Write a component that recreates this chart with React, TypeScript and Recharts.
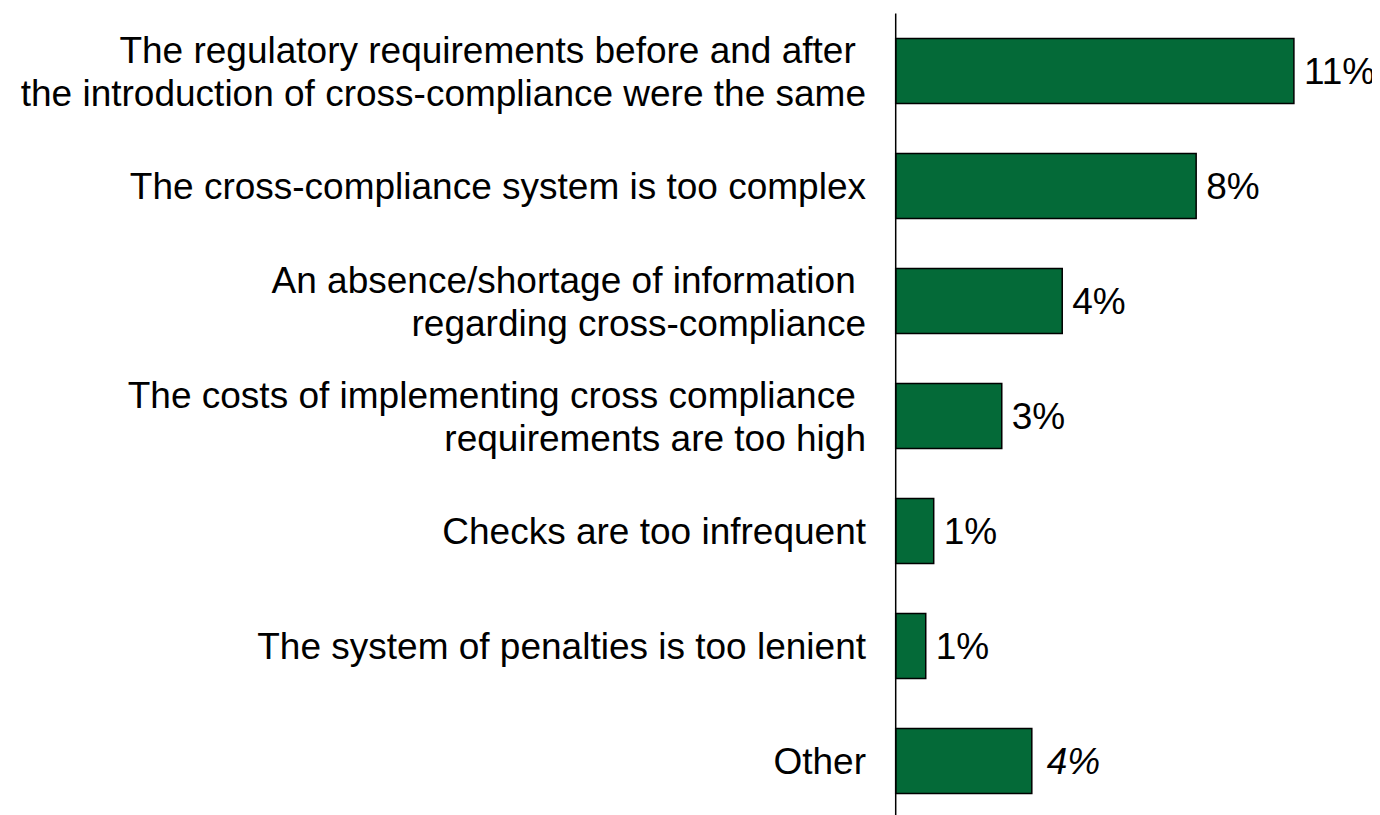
import React from "react";
import { BarChart, Bar, XAxis, YAxis, LabelList } from "recharts";

const categories: string[] = [
  "The regulatory requirements before and after \nthe introduction of cross-compliance were the same",
  "The cross-compliance system is too complex",
  "An absence/shortage of information \nregarding cross-compliance",
  "The costs of implementing cross compliance \nrequirements are too high",
  "Checks are too infrequent",
  "The system of penalties is too lenient",
  "Other",
];

const values: number[] = [11.0, 8.3, 4.6, 2.93, 1.05, 0.83, 3.76];

const valueLabels: string[] = ["11%", "8%", "4%", "3%", "1%", "1%", "4%"];

const italicLabels: boolean[] = [false, false, false, false, false, false, true];

const data = categories.map((name, i) => ({
  name,
  value: values[i],
  label: valueLabels[i],
  italic: italicLabels[i],
}));

const FONT = "'Liberation Sans', Arial, Helvetica, sans-serif";
const FONT_SIZE = 37;
const LINE_H = 43;

const YTick = (props: any) => {
  const { x, y, payload } = props;
  const lines: string[] = String(payload.value).split("\n");
  const n = lines.length;
  const tx = x - 29.7;
  return (
    <text
      x={tx}
      y={y}
      textAnchor="end"
      fontFamily={FONT}
      fontSize={FONT_SIZE}
      fill="#000"
      style={{ whiteSpace: "pre" }}
    >
      {lines.map((l, i) => (
        <tspan key={i} x={tx} y={y + (i - (n - 1) / 2) * LINE_H} dy="0.36em">
          {l}
        </tspan>
      ))}
    </text>
  );
};

const ValueLabel = (props: any) => {
  const { x, y, width, height, index } = props;
  const d = data[index];
  return (
    <text
      x={x + width + (d.italic ? 15 : 10)}
      y={y + height / 2}
      dy="0.36em"
      fontFamily={FONT}
      fontSize={FONT_SIZE}
      fontStyle={d.italic ? "italic" : "normal"}
      fill="#000"
    >
      {d.label}
    </text>
  );
};

export default function App() {
  return (
    <BarChart
      width={1372}
      height={807}
      data={data}
      layout="vertical"
      margin={{ top: 5.5, right: 13.7, bottom: -3.5, left: 0 }}
      barCategoryGap={25}
      style={{ overflow: "visible" }}
    >
      <XAxis type="number" domain={[0, 13]} hide />
      <YAxis
        type="category"
        dataKey="name"
        width={887.7}
        tickLine={false}
        tickSize={0}
        tickMargin={0}
        axisLine={{ stroke: "#000", strokeWidth: 1.5 }}
        tick={<YTick />}
        interval={0}
      />
      <Bar
        dataKey="value"
        fill="#046a38"
        stroke="#000"
        strokeWidth={1.5}
        isAnimationActive={false}
      >
        <LabelList dataKey="label" content={<ValueLabel />} />
      </Bar>
    </BarChart>
  );
}
